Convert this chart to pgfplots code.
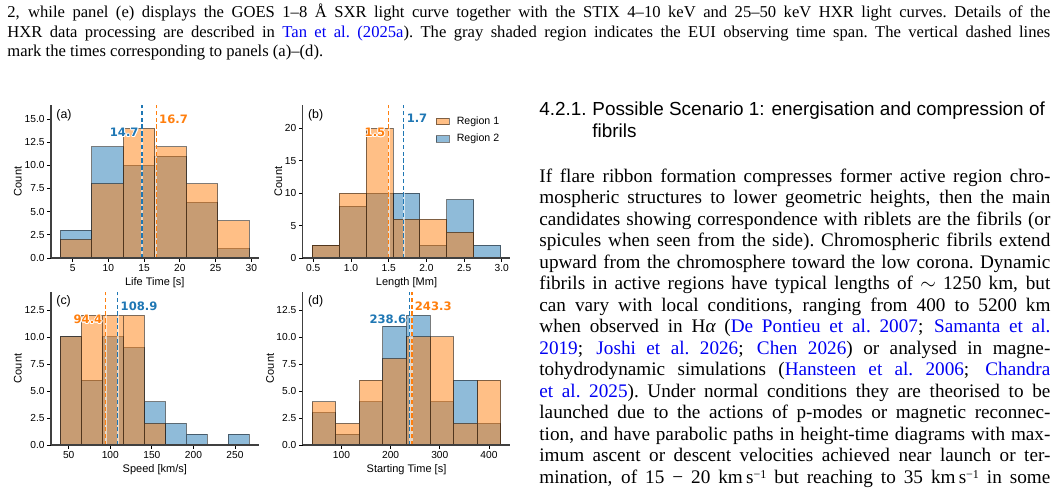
\documentclass[border=0pt]{standalone}
\usepackage{fontspec}
\setmainfont{Liberation Serif}
\newfontfamily\sansf{Liberation Sans}
\newfontfamily\valf{DejaVu Sans}
\usepackage{pgfplots}
\pgfplotsset{compat=1.18}

\definecolor{taborange}{HTML}{FF7F0E}
\definecolor{tabblue}{HTML}{1F77B4}
\definecolor{linkblue}{rgb}{0,0,0.95}

\newcommand\lk[1]{\textcolor{linkblue}{#1}}
\newcommand\capfont{\fontsize{8.3}{9.5}\selectfont}
\newcommand\bodyfont{\fontsize{9.6}{10.75}\selectfont}
\newcommand\headfont{\sansf\fontsize{9.45}{11}\selectfont}
\newcommand\unit{km\,s\smash{\raisebox{2.6pt}{\fontsize{6}{6}\selectfont −1}}}
% one justified line of text
\newcommand\jline[2]{\hbox to #1{\spaceskip=0.25em plus 1.5em minus 0.12em\xspaceskip=\spaceskip\relax #2}}
% coloured text with a thin white outline
\newcommand\wcopy[3]{\rlap{\kern#1\raisebox{#2}{\textcolor{white}{#3}}}}
\newcommand\outlined[2]{%
  \wcopy{-0.45pt}{0pt}{#2}\wcopy{0.45pt}{0pt}{#2}%
  \wcopy{0pt}{0.45pt}{#2}\wcopy{0pt}{-0.45pt}{#2}%
  \wcopy{-0.32pt}{0.32pt}{#2}\wcopy{0.32pt}{0.32pt}{#2}%
  \wcopy{-0.32pt}{-0.32pt}{#2}\wcopy{0.32pt}{-0.32pt}{#2}%
  \textcolor{#1}{#2}}

\tikzset{
  vlab/.style={inner sep=0pt, font=\valf\bfseries\fontsize{5.8}{6}\selectfont},
  plab/.style={inner sep=0pt, anchor=west, font=\sansf\fontsize{6.2}{7}\selectfont},
}
\pgfplotsset{
  hist/.style={
    scale only axis, width=103.8pt, height=76.5pt, anchor=south west,
    axis x line*=bottom, axis y line*=left,
    axis line style={black!75, line width=0.7pt},
    tick align=outside, major tick length=1.8pt,
    tick style={black, line width=0.4pt},
    axis on top, ymin=0,
    /pgf/number format/assume math mode=true,
    tick label style={font=\sansf\fontsize{5.1}{6}\selectfont, inner sep=1.2pt},
    label style={font=\sansf\fontsize{5.5}{6.5}\selectfont},
    xlabel style={at={(axis description cs:0.5,-0.16)}, anchor=center},
  },
  rone/.style={ybar, bar shift=0pt, bar width=#1, fill=taborange, fill opacity=0.5,
    draw=black, draw opacity=0.5, line width=0.5pt},
  rtwo/.style={ybar, bar shift=0pt, bar width=#1, fill=tabblue, fill opacity=0.5,
    draw=black, draw opacity=0.5, line width=0.5pt},
  halo/.style={white, line width=1pt, opacity=0.6},
  meanline/.style={#1, line width=0.6pt, dash pattern=on 2.2pt off 1.2pt},
  patchlegend/.style={legend image code/.code={\draw[##1] (0pt,-1.6pt) rectangle (6.5pt,1.6pt);}},
}

\begin{document}
\begin{tikzpicture}
\path[use as bounding box] (0,0) rectangle (528.5pt,248pt);

% caption lines
\node[anchor=base west, inner sep=0pt, font=\capfont] at (3.5pt,239pt)
  {\jline{521.5pt}{2, while panel (e) displays the GOES 1–8 Å SXR light curve together with the STIX 4–10 keV and 25–50 keV HXR light curves. Details of the}};
\node[anchor=base west, inner sep=0pt, font=\capfont] at (3.5pt,229.25pt)
  {\jline{521.5pt}{HXR data processing are described in \lk{Tan et al. (2025a}). The gray shaded region indicates the EUI observing time span. The vertical dashed lines}};
\node[anchor=base west, inner sep=0pt, font=\capfont] at (3.5pt,219.5pt)
  {mark the times corresponding to panels (a)–(d).};

% section heading
\node[anchor=base west, inner sep=0pt, font=\headfont] at (269.5pt,190pt) {4.2.1.};
\node[anchor=base west, inner sep=0pt, font=\headfont] at (296pt,190pt) {Possible Scenario 1: energisation and compression of};
\node[anchor=base west, inner sep=0pt, font=\headfont] at (296pt,179pt) {fibrils};

% body text
\begin{scope}[every node/.style={anchor=base west, inner sep=0pt, font=\bodyfont}]
\node at (269.5pt,156.75pt) {\jline{255.5pt}{If flare ribbon formation compresses former active region chro-}};
\node at (269.5pt,146pt) {\jline{255.5pt}{mospheric structures to lower geometric heights, then the main}};
\node at (269.5pt,135.25pt) {\jline{255.5pt}{candidates showing correspondence with riblets are the fibrils (or}};
\node at (269.5pt,124.5pt) {\jline{255.5pt}{spicules when seen from the side). Chromospheric fibrils extend}};
\node at (269.5pt,113.75pt) {\jline{255.5pt}{upward from the chromosphere toward the low corona. Dynamic}};
\node at (269.5pt,103pt) {\jline{255.5pt}{fibrils in active regions have typical lengths of $\sim$ 1250 km, but}};
\node at (269.5pt,92.25pt) {\jline{255.5pt}{can vary with local conditions, ranging from 400 to 5200 km}};
\node at (269.5pt,81.5pt) {\jline{255.5pt}{when observed in H{\itshape α} (\lk{De Pontieu et al. 2007}; \lk{Samanta et al.}}};
\node at (269.5pt,70.75pt) {\jline{255.5pt}{\lk{2019}; \lk{Joshi et al. 2026}; \lk{Chen 2026}) or analysed in magne-}};
\node at (269.5pt,60pt) {\jline{255.5pt}{tohydrodynamic simulations (\lk{Hansteen et al. 2006}; \lk{Chandra}}};
\node at (269.5pt,49.25pt) {\jline{255.5pt}{\lk{et al. 2025}). Under normal conditions they are theorised to be}};
\node at (269.5pt,38.5pt) {\jline{255.5pt}{launched due to the actions of p-modes or magnetic reconnec-}};
\node at (269.5pt,27.75pt) {\jline{255.5pt}{tion, and have parabolic paths in height-time diagrams with max-}};
\node at (269.5pt,17pt) {\jline{255.5pt}{imum ascent or descent velocities achieved near launch or ter-}};
\node at (269.5pt,6.25pt) {\jline{255.5pt}{mination, of 15 − 20 \unit{} but reaching to 35 \unit{} in some}};
\end{scope}

% (a) life time
\begin{axis}[hist, at={(25.5pt,119pt)}, xmin=1.98, xmax=31.02, ymax=16.52,
  xtick={5,10,15,20,25,30}, ytick={0,2.5,5,7.5,10,12.5,15},
  yticklabel style={/pgf/number format/.cd, fixed, fixed zerofill, precision=1},
  xlabel={Life Time [s]}, ylabel={Count},
  ylabel style={at={(axis description cs:-0.16,0.5)}, anchor=center}]
\addplot[rtwo=4.4] coordinates {(5.5,3) (9.9,12) (14.3,10) (18.7,11) (23.1,6) (27.5,1)};
\addplot[rone=4.4] coordinates {(5.5,2) (9.9,8) (14.3,14) (18.7,12) (23.1,8) (27.5,4)};
\addplot[halo] coordinates {(14.7,0) (14.7,16.52)};
\addplot[meanline=tabblue] coordinates {(14.7,0) (14.7,16.52)};
\addplot[halo] coordinates {(16.7,0) (16.7,16.52)};
\addplot[meanline=taborange] coordinates {(16.7,0) (16.7,16.52)};
\node[vlab, anchor=east, xshift=-1.5pt] at (axis cs:14.7,13.55) {\outlined{tabblue}{14.7}};
\node[vlab, anchor=west, xshift=1.3pt] at (axis cs:16.7,15.03) {\outlined{taborange}{16.7}};
\node[plab] at (rel axis cs:0.024,0.935) {(a)};
\end{axis}

% (b) length
\begin{axis}[hist, at={(151.35pt,119pt)}, xmin=0.36, xmax=3.1125, ymax=23.6,
  xtick={0.5,1.0,1.5,2.0,2.5,3.0}, ytick={0,5,10,15,20},
  xticklabel style={/pgf/number format/.cd, fixed, fixed zerofill, precision=1},
  xlabel={Length [Mm]}, ylabel={Count},
  ylabel style={at={(axis description cs:-0.117,0.5)}, anchor=center},
  legend style={at={(0.64,0.935)}, anchor=north west, draw=none, fill=none,
    font=\sansf\fontsize{5.3}{6}\selectfont, row sep=2.3pt, inner sep=0pt,
    nodes={inner sep=0.5pt}, column sep=3pt},
  legend cell align=left]
\addlegendimage{patchlegend, fill=taborange, fill opacity=0.5, draw=black, draw opacity=0.5, line width=0.4pt}
\addlegendentry{Region 1}
\addlegendimage{patchlegend, fill=tabblue, fill opacity=0.5, draw=black, draw opacity=0.5, line width=0.4pt}
\addlegendentry{Region 2}
\addplot[rtwo=0.3575, forget plot] coordinates {(0.66375,2) (1.02125,8) (1.37875,10) (1.73625,10) (2.09375,2) (2.45125,9) (2.80875,2)};
\addplot[rone=0.3575, forget plot] coordinates {(0.66375,2) (1.02125,10) (1.37875,20) (1.73625,6) (2.09375,6) (2.45125,4) (2.80875,0)};
\addplot[halo, forget plot] coordinates {(1.5,0) (1.5,23.6)};
\addplot[meanline=taborange, forget plot] coordinates {(1.5,0) (1.5,23.6)};
\addplot[halo, forget plot] coordinates {(1.7,0) (1.7,23.6)};
\addplot[meanline=tabblue, forget plot] coordinates {(1.7,0) (1.7,23.6)};
\node[vlab, anchor=east, xshift=-1.5pt] at (axis cs:1.5,19.35) {\outlined{taborange}{1.5}};
\node[vlab, anchor=west, xshift=1.3pt] at (axis cs:1.7,21.5) {\outlined{tabblue}{1.7}};
\node[plab] at (rel axis cs:0.024,0.935) {(b)};
\end{axis}

% (c) speed
\begin{axis}[hist, at={(25.5pt,25.5pt)}, xmin=28.65, xmax=278.4, ymax=14.16,
  xtick={50,100,150,200,250}, ytick={0,2.5,5,7.5,10,12.5},
  yticklabel style={/pgf/number format/.cd, fixed, fixed zerofill, precision=1},
  xlabel={Speed [km/s]}, ylabel={Count},
  ylabel style={at={(axis description cs:-0.16,0.5)}, anchor=center}]
\addplot[rtwo=25.23] coordinates {(52.62,10) (77.85,6) (103.08,10) (128.31,9) (153.54,4) (178.77,2) (204.0,1) (229.22,0) (254.45,1)};
\addplot[rone=25.23] coordinates {(52.62,10) (77.85,12) (103.08,12) (128.31,12) (153.54,2) (178.77,0) (204.0,0) (229.22,0) (254.45,0)};
\addplot[halo] coordinates {(94.4,0) (94.4,14.16)};
\addplot[meanline=taborange] coordinates {(94.4,0) (94.4,14.16)};
\addplot[halo] coordinates {(108.9,0) (108.9,14.16)};
\addplot[meanline=tabblue] coordinates {(108.9,0) (108.9,14.16)};
\node[vlab, anchor=east, xshift=-1.5pt] at (axis cs:94.4,11.62) {\outlined{taborange}{94.4}};
\node[vlab, anchor=west, xshift=1.3pt] at (axis cs:108.9,12.88) {\outlined{tabblue}{108.9}};
\node[plab] at (rel axis cs:0.024,0.94) {(c)};
\end{axis}

% (d) starting time
\begin{axis}[hist, at={(151.35pt,25.5pt)}, xmin=21.1, xmax=443.5, ymax=14.16,
  xtick={100,200,300,400}, ytick={0,2.5,5,7.5,10,12.5},
  yticklabel style={/pgf/number format/.cd, fixed, fixed zerofill, precision=1},
  xlabel={Starting Time [s]}, ylabel={Count},
  ylabel style={at={(axis description cs:-0.157,0.5)}, anchor=center}]
\addplot[rtwo=48] coordinates {(64.3,3) (112.3,1) (160.3,4) (208.3,11) (256.3,12) (304.3,4) (352.3,6) (400.3,2)};
\addplot[rone=48] coordinates {(64.3,4) (112.3,2) (160.3,6) (208.3,8) (256.3,10) (304.3,10) (352.3,2) (400.3,6)};
\addplot[halo] coordinates {(238.6,0) (238.6,14.16)};
\addplot[meanline=tabblue] coordinates {(238.6,0) (238.6,14.16)};
\addplot[halo] coordinates {(243.3,0) (243.3,14.16)};
\addplot[meanline=taborange] coordinates {(243.3,0) (243.3,14.16)};
\node[vlab, anchor=east, xshift=-1.5pt] at (axis cs:238.6,11.62) {\outlined{tabblue}{238.6}};
\node[vlab, anchor=west, xshift=1.3pt] at (axis cs:243.3,12.88) {\outlined{taborange}{243.3}};
\node[plab] at (rel axis cs:0.024,0.94) {(d)};
\end{axis}
\end{tikzpicture}
\end{document}
